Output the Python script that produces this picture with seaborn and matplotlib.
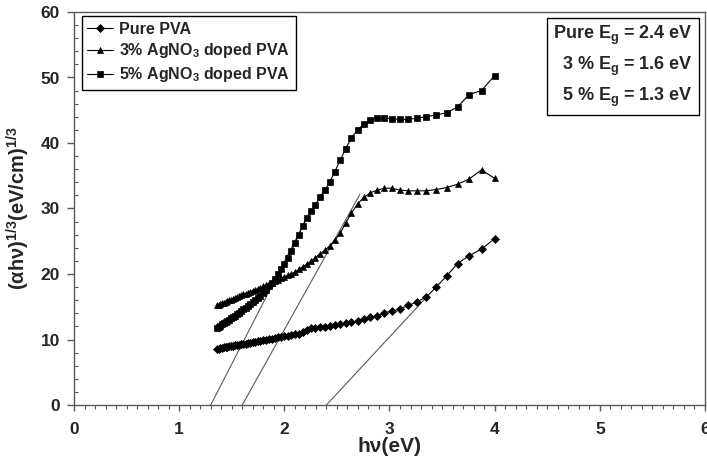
import matplotlib
matplotlib.use("Agg")
import matplotlib.pyplot as plt
from matplotlib.ticker import MultipleLocator
import numpy as np
import pandas as pd
import seaborn as sns

# Photon energy grid (eV)
hv = [1.363, 1.378, 1.393, 1.409, 1.425, 1.442, 1.459, 1.476, 1.494, 1.512,
      1.531, 1.550, 1.570, 1.590, 1.610, 1.632, 1.653, 1.676, 1.699, 1.722,
      1.746, 1.771, 1.797, 1.824, 1.851, 1.879, 1.908, 1.938, 1.968, 2.000,
      2.033, 2.067, 2.102, 2.138, 2.175, 2.214, 2.255, 2.296, 2.340, 2.385,
      2.431, 2.480, 2.531, 2.583, 2.638, 2.696, 2.756, 2.818, 2.884, 2.952,
      3.024, 3.100, 3.179, 3.263, 3.351, 3.444, 3.543, 3.647, 3.758, 3.875,
      4.000]

# (alpha h nu)^(1/3) for each film
pure_pva = [8.60, 8.60, 8.70, 8.75, 8.80, 8.85, 8.90, 8.95, 9.00, 9.05,
            9.10, 9.15, 9.20, 9.25, 9.30, 9.35, 9.40, 9.50, 9.55, 9.60,
            9.70, 9.75, 9.85, 9.95, 10.05, 10.15, 10.25, 10.35, 10.45, 10.55,
            10.60, 10.70, 10.80, 10.90, 11.10, 11.40, 11.70, 11.80, 11.85, 11.95,
            12.05, 12.15, 12.30, 12.45, 12.60, 12.85, 13.10, 13.40, 13.60, 14.10,
            14.30, 14.70, 15.20, 15.75, 16.50, 18.00, 19.70, 21.60, 22.80, 23.80,
            25.40]
doped_3 = [15.20, 15.30, 15.40, 15.50, 15.60, 15.75, 15.85, 16.00, 16.10, 16.20,
           16.35, 16.50, 16.60, 16.75, 16.90, 17.00, 17.15, 17.30, 17.45, 17.60,
           17.75, 17.90, 18.10, 18.30, 18.50, 18.70, 18.90, 19.10, 19.35, 19.60,
           19.80, 20.00, 20.30, 20.70, 21.10, 21.50, 22.00, 22.50, 23.10, 23.60,
           24.30, 25.20, 26.20, 27.80, 29.30, 30.70, 31.70, 32.40, 32.80, 33.10,
           33.10, 32.80, 32.70, 32.70, 32.70, 32.90, 33.20, 33.70, 34.50, 35.90,
           34.60]
doped_5 = [11.70, 11.90, 12.10, 12.30, 12.50, 12.70, 12.90, 13.05, 13.25, 13.45,
           13.65, 13.85, 14.10, 14.35, 14.60, 14.85, 15.10, 15.40, 15.70, 16.00,
           16.35, 16.70, 17.10, 17.60, 18.10, 18.70, 19.30, 20.00, 20.70, 21.50,
           22.40, 23.50, 24.80, 26.00, 27.40, 28.60, 29.60, 30.60, 31.80, 32.80,
           34.00, 35.60, 37.40, 39.10, 40.80, 42.00, 42.90, 43.50, 43.80, 43.80,
           43.70, 43.60, 43.60, 43.80, 44.00, 44.30, 44.60, 45.50, 47.40, 48.00,
           50.30]

series_names = ["Pure PVA", "3% AgNO$_3$ doped PVA", "5% AgNO$_3$ doped PVA"]
series_markers = ["D", "^", "s"]

# Linear extrapolations: band gap (x-intercept) and upper end of each fit line
gap_labels = ["Pure", "3 %", "5 %"]
band_gap = [2.4, 1.6, 1.3]
fit_end_hv = [3.36, 2.72, 2.25]
fit_end_val = [16.6, 32.2, 29.7]

x_ticks = [0, 1, 2, 3, 4, 5, 6]
y_ticks = [0, 10, 20, 30, 40, 50, 60]

sns.set_style("ticks")
plt.rcParams["font.family"] = ["Liberation Sans", "DejaVu Sans"]
plt.rcParams["font.weight"] = "bold"
plt.rcParams["mathtext.fontset"] = "custom"
plt.rcParams["mathtext.rm"] = "Liberation Sans:bold"
plt.rcParams["mathtext.it"] = "Liberation Sans:bold"
plt.rcParams["mathtext.bf"] = "Liberation Sans:bold"

df = pd.DataFrame({
    "hv": hv * 3,
    "value": pure_pva + doped_3 + doped_5,
    "series": [series_names[0]] * len(hv) + [series_names[1]] * len(hv)
              + [series_names[2]] * len(hv),
})

W, H = 707, 465
fig = plt.figure(figsize=(W / 100, H / 100), dpi=100)
ax = fig.add_axes([74 / W, 1 - 405 / H, (705 - 74) / W, (405 - 12) / H])

fit_df = pd.DataFrame({
    "hv": [v for pair in zip(band_gap, fit_end_hv) for v in pair],
    "value": [v for pair in zip([0, 0, 0], fit_end_val) for v in pair],
    "fit": [g for g in gap_labels for _ in range(2)],
})
sns.lineplot(data=fit_df, x="hv", y="value", units="fit", estimator=None,
             color="#5a5a5a", linewidth=0.8, ax=ax, legend=False, sort=False)

sns.lineplot(data=df, x="hv", y="value", hue="series", style="series",
             hue_order=series_names, style_order=series_names,
             palette=["black"] * 3,
             markers=dict(zip(series_names, series_markers)), dashes=False,
             markersize=5.0, markeredgewidth=0.5, linewidth=0.8,
             estimator=None, sort=False, ax=ax, legend=False)

data_lines = ax.lines[-3:]
for ln, m in zip(data_lines, series_markers):
    ln.set_markerfacecolor("black")
    ln.set_markeredgecolor("black")
    if m == "D":
        ln.set_markersize(4.2)
    elif m == "s":
        ln.set_markersize(4.0)

ax.set_xlim(0, 6)
ax.set_ylim(0, 60)
ax.set_xticks(x_ticks)
ax.set_yticks(y_ticks)
ax.xaxis.set_minor_locator(MultipleLocator(0.1))
ax.yaxis.set_minor_locator(MultipleLocator(2))

spine_c = "#5a5a5a"
for s in ax.spines.values():
    s.set_color(spine_c)
    s.set_linewidth(1.0)
    s.set_visible(True)

ax.tick_params(axis="x", which="major", direction="out", length=4, width=1,
               color=spine_c, pad=8, labelsize=12.5)
ax.tick_params(axis="x", which="minor", direction="out", length=3, width=0.8,
               color=spine_c)
ax.tick_params(axis="y", which="major", direction="out", length=5, width=1,
               color=spine_c, pad=5, labelsize=12.5)
ax.tick_params(axis="y", which="minor", direction="in", length=3, width=0.8,
               color=spine_c)
for lab in ax.get_xticklabels() + ax.get_yticklabels():
    lab.set_fontweight("bold")

ax.set_xlabel("h\u03bd(eV)", fontsize=15, fontweight="bold")
ax.set_ylabel("(\u03b1h\u03bd)$^{1/3}$(eV/cm)$^{1/3}$", fontsize=14.5,
              fontweight="bold")
ax.xaxis.set_label_coords(0.5, -0.082)
ax.yaxis.set_label_coords(-0.066, 0.5)

leg = ax.legend(handles=data_lines, labels=series_names, loc="upper left",
                bbox_to_anchor=(0.012, 0.99), borderaxespad=0,
                frameon=True, fancybox=False, framealpha=1, edgecolor="black",
                prop={"weight": "bold", "size": 11.5}, handlelength=1.6,
                handletextpad=0.4, labelspacing=0.3, borderpad=0.35)
leg.get_frame().set_linewidth(1.0)

gap_text = "\n".join(f"{g} E$_\\mathrm{{g}}$ = {e} eV"
                     for g, e in zip(gap_labels, band_gap))
ax.text(0.981, 0.969, gap_text, transform=ax.transAxes, ha="right", va="top",
        multialignment="right", fontsize=13, fontweight="bold",
        linespacing=1.5,
        bbox=dict(boxstyle="square,pad=0.35", fc="white", ec="black", lw=1.0))

fig.savefig("out.png", dpi=100)
